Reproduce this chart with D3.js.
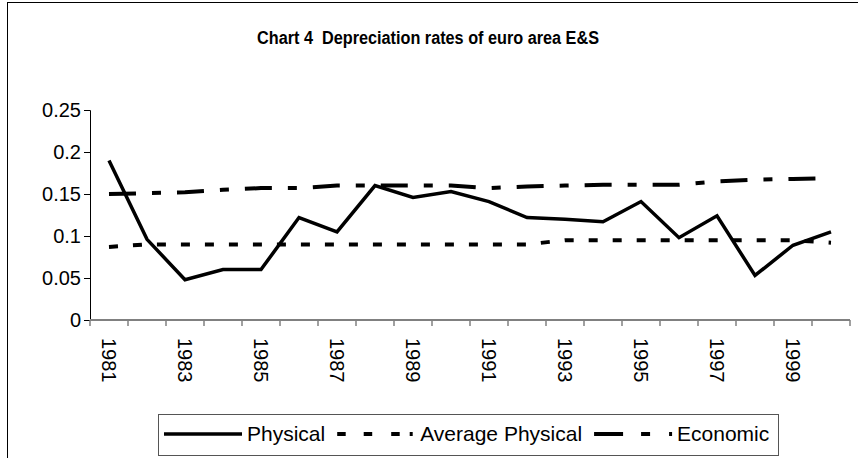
<!DOCTYPE html>
<html>
<head>
<meta charset="utf-8">
<script src="https://cdn.jsdelivr.net/npm/d3@7"></script>
<style>
  body { margin: 0; background: #fff; }
  svg { display: block; font-family: "Liberation Sans", Arial, sans-serif; }
</style>
</head>
<body>
<svg id="chart" width="858" height="458"></svg>
<script>
var years = [1981, 1982, 1983, 1984, 1985, 1986, 1987, 1988, 1989, 1990,
             1991, 1992, 1993, 1994, 1995, 1996, 1997, 1998, 1999, 2000];
var physical = [0.190, 0.096, 0.048, 0.060, 0.060, 0.122, 0.105, 0.160, 0.146, 0.153,
                0.141, 0.122, 0.120, 0.117, 0.141, 0.098, 0.124, 0.053, 0.089, 0.105];
var avgPhysical = [0.087, 0.090, 0.090, 0.090, 0.090, 0.090, 0.090, 0.090, 0.090, 0.090,
                   0.090, 0.090, 0.095, 0.095, 0.095, 0.095, 0.095, 0.095, 0.095, 0.092];
var economic = [0.150, 0.151, 0.152, 0.155, 0.157, 0.157, 0.160, 0.160, 0.160, 0.160,
                0.157, 0.159, 0.160, 0.161, 0.161, 0.161, 0.165, 0.167, 0.168, 0.169];
var yTicks = [0, 0.05, 0.1, 0.15, 0.2, 0.25];
var xLabels = [1981, 1983, 1985, 1987, 1989, 1991, 1993, 1995, 1997, 1999];
var seriesNames = ["Physical", "Average Physical", "Economic"];

var svg = d3.select("#chart");

// chart area frame (right and bottom edges fall outside the picture)
svg.append("rect")
    .attr("x", 7.5).attr("y", 2.5)
    .attr("width", 900).attr("height", 500)
    .attr("fill", "none").attr("stroke", "#000");

svg.append("text")
    .attr("x", 428).attr("y", 44)
    .attr("text-anchor", "middle")
    .attr("textLength", 342).attr("lengthAdjust", "spacingAndGlyphs")
    .style("font-size", "18px").style("font-weight", "bold")
    .style("white-space", "pre")
    .text("Chart 4  Depreciation rates of euro area E&S");

var x = d3.scaleBand().domain(years).range([90, 850]);
var y = d3.scaleLinear().domain([0, 0.25]).range([320, 110]);
var cx = function (d) { return x(d) + x.bandwidth() / 2; };

// y axis
var yAxis = svg.append("g")
    .attr("transform", "translate(90,0)")
    .call(d3.axisLeft(y).tickValues(yTicks).tickSize(6).tickPadding(3)
        .tickFormat(d3.format("~g")));
yAxis.selectAll("text").style("font-size", "20px").attr("fill", "#000")
    .attr("font-family", null);
yAxis.selectAll("line, path").attr("stroke", "#000");

// x axis: ticks on category boundaries, labels on every other year
var xg = svg.append("g");
xg.append("line")
    .attr("x1", x.range()[0]).attr("x2", x.range()[1])
    .attr("y1", y(0)).attr("y2", y(0))
    .attr("stroke", "#808080").attr("stroke-width", 2);
xg.selectAll(".tick")
    .data(years.map(function (d) { return x(d); }).concat([x.range()[1]]))
    .enter().append("line")
    .attr("x1", function (d) { return d; }).attr("x2", function (d) { return d; })
    .attr("y1", y(0)).attr("y2", y(0) + 6)
    .attr("stroke", "#808080").attr("stroke-width", 1.5);
xg.selectAll("text")
    .data(xLabels)
    .enter().append("text")
    .attr("transform", function (d) { return "translate(" + cx(d) + "," + (y(0) + 18) + ") rotate(90)"; })
    .attr("dy", "0.35em")
    .style("font-size", "20px")
    .text(function (d) { return d; });

var series = [
    { name: seriesNames[0], values: physical, dash: null, width: 3.5, legendDash: null },
    { name: seriesNames[1], values: avgPhysical, dash: "9,15", width: 4, legendDash: "8.5,18,8.5,19,8.5,10,3" },
    { name: seriesNames[2], values: economic, dash: "27,16,9,16", width: 4, legendDash: "29,18,9,19,4" }
];

var line = d3.line()
    .x(function (d, i) { return cx(years[i]); })
    .y(function (d) { return y(d); });

svg.selectAll(".series")
    .data(series)
    .enter().append("path")
    .attr("d", function (s) { return line(s.values); })
    .attr("fill", "none")
    .attr("stroke", "#000")
    .attr("stroke-width", function (s) { return s.width; })
    .attr("stroke-dasharray", function (s) { return s.dash; });

// legend
var legend = svg.append("g");
legend.append("rect")
    .attr("x", 158.5).attr("y", 414.5)
    .attr("width", 620).attr("height", 41)
    .attr("fill", "#fff").attr("stroke", "#555");
var lx = 164;
series.forEach(function (s) {
    legend.append("line")
        .attr("x1", lx).attr("x2", lx + 78)
        .attr("y1", 434).attr("y2", 434)
        .attr("stroke", "#000").attr("stroke-width", s.width)
        .attr("stroke-dasharray", s.legendDash);
    var t = legend.append("text")
        .attr("x", lx + 83).attr("y", 434).attr("dy", "0.35em")
        .style("font-size", "21px")
        .text(s.name);
    lx += 83 + t.node().getComputedTextLength() + 12;
});
</script>
</body>
</html>
